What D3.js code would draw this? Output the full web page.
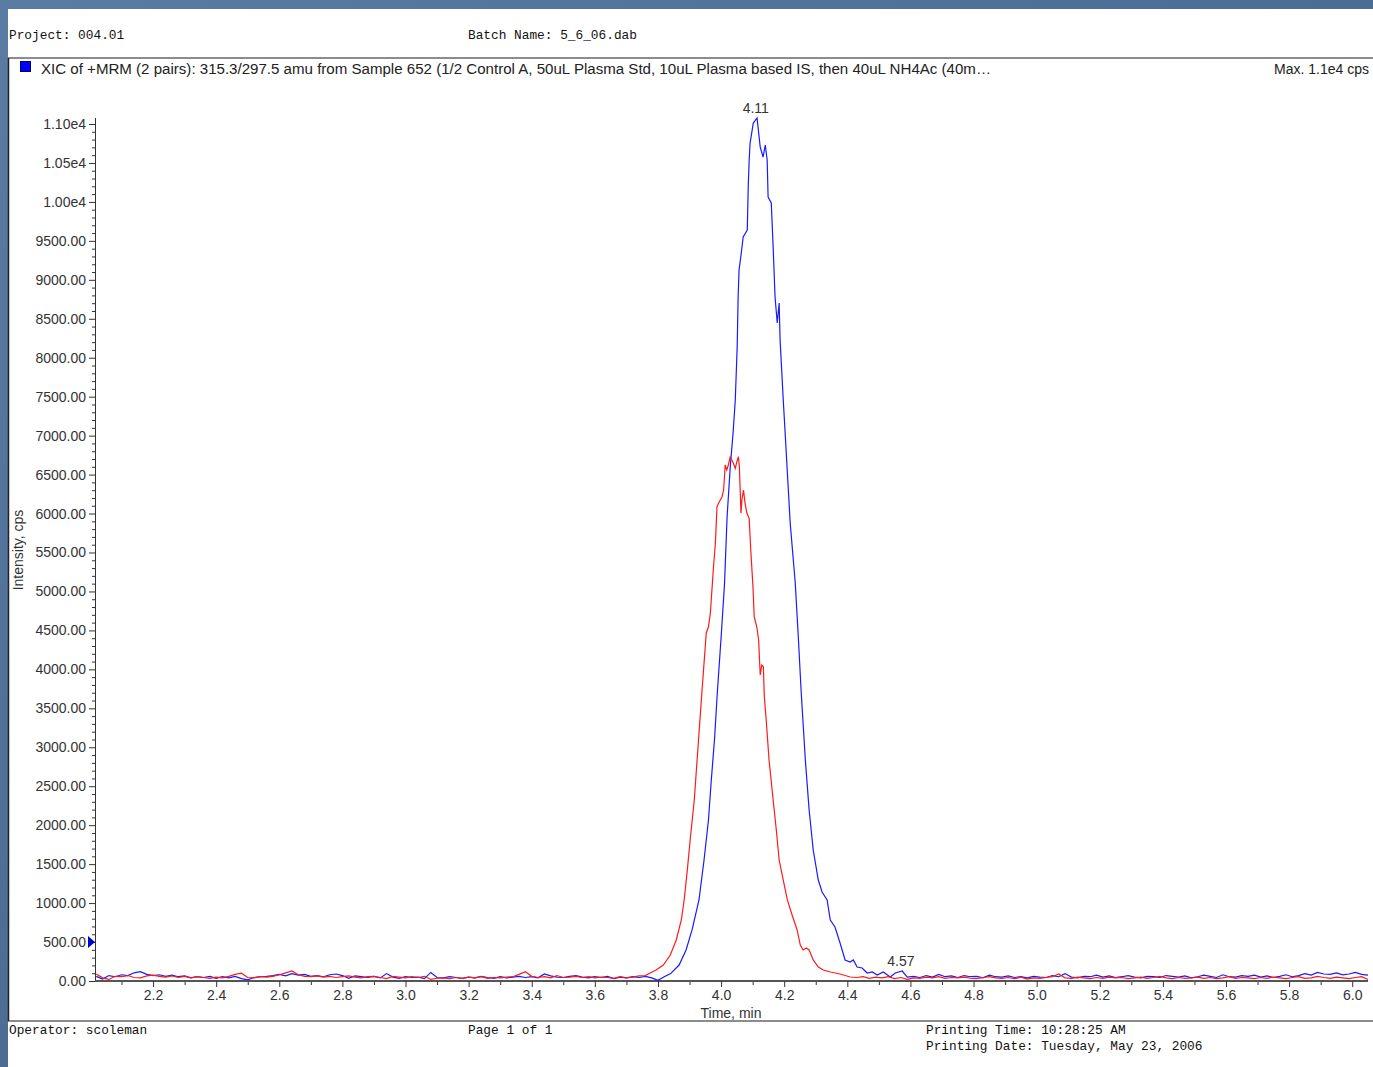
<!DOCTYPE html>
<html>
<head>
<meta charset="utf-8">
<script src="https://cdn.jsdelivr.net/npm/d3@7"></script>
<style>
  html, body { margin: 0; padding: 0; background: #50729a; }
  svg { display: block; }
</style>
</head>
<body>
<div id="graph"></div>
<script>
// XIC trace values: [time (min), intensity (cps)]
var blueLead = [
  [2.02,60],[2.04,25],[2.06,70],[2.08,55],[2.10,80],[2.12,70],[2.14,105],[2.16,120],[2.18,85],[2.20,70],
  [2.22,80],[2.24,60],[2.26,75],[2.28,55],[2.30,65],[2.32,40],[2.34,55],[2.36,45],[2.38,60],[2.40,35],
  [2.42,55],[2.44,40],[2.46,60],[2.48,30],[2.50,15],[2.52,45],[2.54,55],[2.56,60],[2.58,70],[2.60,85],
  [2.62,65],[2.64,95],[2.66,75],[2.68,85],[2.70,60],[2.72,70],[2.74,55],[2.76,80],[2.78,90],[2.80,70],
  [2.82,35],[2.84,65],[2.86,55],[2.88,45],[2.90,60],[2.92,40],[2.94,95],[2.96,50],[2.98,35],[3.00,55],
  [3.02,45],[3.04,50],[3.06,30],[3.08,110],[3.10,45],[3.12,40],[3.14,55],[3.16,45],[3.18,35],[3.20,50],
  [3.22,40],[3.24,60],[3.26,45],[3.28,35],[3.30,55],[3.32,40],[3.34,50],[3.36,60],[3.38,45],[3.40,55],
  [3.42,40],[3.44,90],[3.46,65],[3.48,50],[3.50,45],[3.52,60],[3.54,70],[3.56,50],[3.58,40],[3.60,55],
  [3.62,45],[3.64,60],[3.66,30],[3.68,50],[3.70,40],[3.72,55],[3.74,45],[3.76,60],[3.78,40],[3.80,10],
  [3.82,55],[3.84,95]
];
var bluePeak = [
  [3.867,205],[3.889,398],[3.908,655],[3.930,1040],[3.946,1553],[3.960,2066],[3.969,2580],[3.979,3093],
  [3.988,3696],[4.001,4467],[4.011,5108],[4.019,5955],[4.029,6597],[4.038,7034],[4.045,7457],[4.051,8137],
  [4.054,8779],[4.057,9126],[4.064,9344],[4.070,9549],[4.083,9639],[4.086,10191],[4.089,10538],[4.092,10756],
  [4.102,11012],[4.114,11077],[4.124,10704],[4.133,10576],[4.140,10730],[4.146,10538],[4.149,10063],[4.159,9986],
  [4.165,9421],[4.171,8779],[4.178,8445],[4.184,8702],[4.187,8227],[4.197,7457],[4.203,7034],[4.219,5878],
  [4.235,5108],[4.244,4467],[4.254,3696],[4.267,2837],[4.279,2195],[4.292,1681],[4.308,1296],[4.320,1142],
  [4.336,1040],[4.346,783],[4.361,693],[4.377,488],[4.393,270],[4.409,244],[4.419,270],[4.431,180],
  [4.447,167],[4.463,103],[4.479,116],[4.495,77],[4.514,116],[4.536,51],[4.552,103],[4.574,128],[4.590,51]
];
var blueTail = [
  [4.61,60],[4.63,45],[4.65,70],[4.67,50],[4.69,85],[4.71,55],[4.73,65],[4.75,45],[4.77,70],[4.79,55],
  [4.81,60],[4.83,40],[4.85,75],[4.87,55],[4.89,50],[4.91,65],[4.93,45],[4.95,55],[4.97,40],[4.99,60],
  [5.01,50],[5.03,45],[5.05,70],[5.07,55],[5.09,95],[5.11,50],[5.13,40],[5.15,60],[5.17,55],[5.19,75],
  [5.21,50],[5.23,65],[5.25,45],[5.27,55],[5.29,70],[5.31,50],[5.33,40],[5.35,60],[5.37,55],[5.39,45],
  [5.41,70],[5.43,60],[5.45,50],[5.47,65],[5.49,40],[5.51,55],[5.53,75],[5.55,60],[5.57,45],[5.59,80],
  [5.61,55],[5.63,50],[5.65,70],[5.67,60],[5.69,75],[5.71,50],[5.73,65],[5.75,45],[5.77,60],[5.79,80],
  [5.81,55],[5.83,70],[5.85,95],[5.87,75],[5.89,110],[5.91,90],[5.93,85],[5.95,105],[5.97,80],[5.99,90],
  [6.01,110],[6.03,85],[6.05,75]
];

var redLead = [
  [2.02,90],[2.04,40],[2.06,20],[2.08,60],[2.10,55],[2.12,70],[2.14,45],[2.16,40],[2.18,65],[2.20,75],
  [2.22,60],[2.24,50],[2.26,65],[2.28,45],[2.30,60],[2.32,40],[2.34,55],[2.36,45],[2.38,35],[2.40,50],
  [2.42,40],[2.44,60],[2.46,85],[2.48,100],[2.50,45],[2.52,40],[2.54,55],[2.56,50],[2.58,60],[2.60,80],
  [2.62,105],[2.64,130],[2.66,80],[2.68,60],[2.70,55],[2.72,65],[2.74,50],[2.76,60],[2.78,45],[2.80,55],
  [2.82,65],[2.84,50],[2.86,40],[2.88,55],[2.90,60],[2.92,45],[2.94,30],[2.96,60],[2.98,50],[3.00,40],
  [3.02,55],[3.04,45],[3.06,60],[3.08,20],[3.10,35],[3.12,40],[3.14,30],[3.16,45],[3.18,35],[3.20,50],
  [3.22,40],[3.24,55],[3.26,35],[3.28,45],[3.30,40],[3.32,50],[3.34,55],[3.36,85],[3.38,120],[3.40,60],
  [3.42,45],[3.44,55],[3.46,40],[3.48,70],[3.50,45],[3.52,50],[3.54,60],[3.56,45],[3.58,55],[3.60,40],
  [3.62,50],[3.64,45],[3.66,35],[3.68,55],[3.70,40],[3.72,50],[3.74,65],[3.76,70]
];
var redPeak = [
  [3.769,90],[3.794,141],[3.817,205],[3.839,334],[3.858,526],[3.874,783],[3.883,1040],[3.893,1425],
  [3.902,1810],[3.915,2323],[3.924,2837],[3.939,3693],[3.953,4467],[3.960,4547],[3.966,4723],[3.976,5318],
  [3.982,5622],[3.987,6088],[3.992,6131],[4.003,6216],[4.008,6302],[4.013,6623],[4.018,6559],[4.023,6623],
  [4.029,6729],[4.034,6687],[4.039,6645],[4.045,6580],[4.050,6665],[4.055,6729],[4.058,6601],[4.063,6003],
  [4.066,6174],[4.071,6302],[4.076,6131],[4.082,6003],[4.089,5939],[4.094,5532],[4.101,5061],[4.105,4676],
  [4.113,4547],[4.119,4377],[4.124,3928],[4.129,4056],[4.134,4034],[4.137,3649],[4.143,3350],[4.152,2837],
  [4.165,2323],[4.175,1938],[4.184,1553],[4.197,1296],[4.210,1040],[4.225,847],[4.241,655],[4.251,462],
  [4.260,398],[4.270,424],[4.279,398],[4.292,270],[4.308,180],[4.324,141],[4.346,116],[4.377,90],[4.409,51]
];
var redTail = [
  [4.43,45],[4.45,55],[4.47,35],[4.49,50],[4.51,40],[4.53,55],[4.55,30],[4.57,45],[4.59,20],[4.61,40],
  [4.63,35],[4.65,50],[4.67,40],[4.69,55],[4.71,35],[4.73,45],[4.75,40],[4.77,50],[4.79,35],[4.81,30],
  [4.83,45],[4.85,55],[4.87,40],[4.89,35],[4.91,45],[4.93,30],[4.95,50],[4.97,25],[4.99,40],[5.01,35],
  [5.03,45],[5.05,55],[5.07,90],[5.09,40],[5.11,35],[5.13,50],[5.15,40],[5.17,30],[5.19,45],[5.21,35],
  [5.23,50],[5.25,40],[5.27,45],[5.29,30],[5.31,40],[5.33,50],[5.35,35],[5.37,45],[5.39,60],[5.41,40],
  [5.43,30],[5.45,45],[5.47,35],[5.49,40],[5.51,50],[5.53,35],[5.55,45],[5.57,30],[5.59,40],[5.61,55],
  [5.63,35],[5.65,45],[5.67,40],[5.69,30],[5.71,45],[5.73,35],[5.75,50],[5.77,40],[5.79,30],[5.81,45],
  [5.83,55],[5.85,35],[5.87,40],[5.89,60],[5.91,45],[5.93,35],[5.95,50],[5.97,40],[5.99,30],[6.01,45],
  [6.03,55],[6.05,20]
];

// axis ticks and labels
var xTicks = [2.2,2.4,2.6,2.8,3.0,3.2,3.4,3.6,3.8,4.0,4.2,4.4,4.6,4.8,5.0,5.2,5.4,5.6,5.8,6.0];
var yTicks = [0,500,1000,1500,2000,2500,3000,3500,4000,4500,5000,5500,6000,6500,7000,7500,8000,8500,9000,9500,10000,10500,11000];
var peakLabels = [[4.11,11077,"4.11"],[4.57,128,"4.57"]];

var headerLeft = "Project: 004.01";
var headerMid = "Batch Name: 5_6_06.dab";
var legendText = "XIC of +MRM (2 pairs): 315.3/297.5 amu from Sample 652 (1/2 Control A, 50uL Plasma Std, 10uL Plasma based IS, then 40uL NH4Ac (40m\u2026";
var maxText = "Max. 1.1e4 cps";
var footerOp = "Operator: scoleman";
var footerPage = "Page 1 of 1";
var footerTime = "Printing Time: 10:28:25 AM";
var footerDate = "Printing Date: Tuesday, May 23, 2006";

function render() {
  var width = 1373, height = 1067;
  var mono = "'Liberation Mono', 'DejaVu Sans Mono', monospace";
  var sans = "'Liberation Sans', Arial, sans-serif";

  var svg = d3.select("#graph").html("")
    .append("svg")
    .attr("width", width)
    .attr("height", height);

  // slide background
  var defs = svg.append("defs");
  var grad = defs.append("linearGradient").attr("id", "bg")
    .attr("x1", 0).attr("y1", 0).attr("x2", 1).attr("y2", 1);
  grad.append("stop").attr("offset", 0).attr("stop-color", "#5a7ca3");
  grad.append("stop").attr("offset", 0.5).attr("stop-color", "#4b6d95");
  grad.append("stop").attr("offset", 1).attr("stop-color", "#5a7ba2");
  svg.append("rect").attr("width", width).attr("height", height).attr("fill", "url(#bg)");

  // white page
  svg.append("rect").attr("x", 8).attr("y", 9).attr("width", width - 8).attr("height", height - 9)
    .attr("fill", "#ffffff");

  // page header
  svg.append("text").attr("x", 9).attr("y", 39).text(headerLeft)
    .style("font-family", mono).style("font-size", "12.8px").attr("fill", "#111");
  svg.append("text").attr("x", 468).attr("y", 39).text(headerMid)
    .style("font-family", mono).style("font-size", "12.8px").attr("fill", "#111");

  // chart frame
  svg.append("line").attr("x1", 8).attr("x2", width).attr("y1", 58).attr("y2", 58)
    .attr("stroke", "#8c8c8c").attr("stroke-width", 2);
  svg.append("line").attr("x1", 8).attr("x2", width).attr("y1", 1021).attr("y2", 1021)
    .attr("stroke", "#8c8c8c").attr("stroke-width", 2);
  svg.append("line").attr("x1", 8.5).attr("x2", 8.5).attr("y1", 58).attr("y2", 1021)
    .attr("stroke", "#222").attr("stroke-width", 1.5);

  // legend
  svg.append("rect").attr("x", 20.5).attr("y", 61.5).attr("width", 10).attr("height", 10)
    .attr("fill", "#0000ff").attr("stroke", "#000066").attr("stroke-width", 1);
  svg.append("text").attr("x", 41).attr("y", 74).text(legendText)
    .attr("textLength", 950).attr("lengthAdjust", "spacingAndGlyphs")
    .style("font-family", sans).style("font-size", "14px").attr("fill", "#222");
  svg.append("text").attr("x", 1274).attr("y", 74).text(maxText)
    .style("font-family", sans).style("font-size", "14px").attr("fill", "#222");

  // scales
  var x = d3.scaleLinear().domain([2.016, 6.05]).range([95, 1368]);
  var y = d3.scaleLinear().domain([0, 11077]).range([981, 118]);

  var g = svg.append("g");

  // y axis
  var yFmt = function(d) { return d >= 10000 ? (d / 1e4).toFixed(2) + "e4" : d.toFixed(2); };
  var yMinor = d3.range(0, 11001, 100).filter(function(d) { return d % 500 !== 0; });
  var yAxisMinor = d3.axisLeft(y).tickValues(yMinor).tickSize(3).tickFormat("");
  var yAxis = d3.axisLeft(y).tickValues(yTicks).tickSize(6).tickPadding(3).tickFormat(yFmt);

  g.append("g").attr("transform", "translate(95,0)").call(yAxisMinor)
    .call(function(a) { a.select(".domain").remove(); a.selectAll("line").attr("stroke", "#333"); });
  g.append("g").attr("transform", "translate(95,0)").call(yAxis)
    .call(function(a) {
      a.select(".domain").attr("stroke", "#333").attr("d", "M0.5," + y.range()[1] + "V" + y.range()[0]);
      a.selectAll("line").attr("stroke", "#333");
      a.selectAll("text").style("font-family", sans).style("font-size", "14px").attr("fill", "#333");
    });

  // x axis
  var xMinor = d3.range(21, 61, 1).map(function(d) { return d / 10; })
    .filter(function(d) { return Math.round(d * 10) % 2 !== 0; });
  var xAxisMinor = d3.axisBottom(x).tickValues(xMinor).tickSize(4).tickFormat("");
  var xAxis = d3.axisBottom(x).tickValues(xTicks).tickSize(6).tickPadding(3).tickFormat(d3.format(".1f"));

  g.append("g").attr("transform", "translate(0,981)").call(xAxisMinor)
    .call(function(a) { a.select(".domain").remove(); a.selectAll("line").attr("stroke", "#333"); });
  g.append("g").attr("transform", "translate(0,981)").call(xAxis)
    .call(function(a) {
      a.select(".domain").attr("stroke", "#555").attr("stroke-width", 2)
        .attr("d", "M" + x.range()[0] + ",0H" + x.range()[1]);
      a.selectAll("line").attr("stroke", "#333");
      a.selectAll("text").style("font-family", sans).style("font-size", "14px").attr("fill", "#333");
    });

  // axis titles
  svg.append("text").attr("x", 731).attr("y", 1018).attr("text-anchor", "middle").text("Time, min")
    .style("font-family", sans).style("font-size", "14px").attr("fill", "#333");
  svg.append("text").attr("transform", "translate(23,550) rotate(-90)").attr("text-anchor", "middle")
    .text("Intensity, cps")
    .style("font-family", sans).style("font-size", "14px").attr("fill", "#333");

  // threshold marker on the y axis
  svg.append("path")
    .attr("d", "M" + 88 + "," + (y(500) - 6) + "L95," + y(500) + "L88," + (y(500) + 6) + "Z")
    .attr("fill", "#0000cc");

  // traces
  var line = d3.line()
    .x(function(d) { return x(d[0]); })
    .y(function(d) { return y(d[1]); });

  var blue = blueLead.concat(bluePeak, blueTail);
  var red = redLead.concat(redPeak, redTail);

  g.append("path").datum(blue).attr("d", line)
    .attr("fill", "none").attr("stroke", "#1a1aff").attr("stroke-width", 1.2);
  g.append("path").datum(red).attr("d", line)
    .attr("fill", "none").attr("stroke", "#ff1a1a").attr("stroke-width", 1.2);

  // peak apex labels
  g.selectAll(".peak").data(peakLabels).enter().append("text")
    .attr("class", "peak")
    .attr("x", function(d) { return x(d[0]); })
    .attr("y", function(d) { return y(d[1]) - 5; })
    .attr("text-anchor", "middle")
    .text(function(d) { return d[2]; })
    .style("font-family", sans).style("font-size", "14px").attr("fill", "#333");

  // page footer
  svg.append("text").attr("x", 9).attr("y", 1034).text(footerOp)
    .style("font-family", mono).style("font-size", "12.8px").attr("fill", "#111");
  svg.append("text").attr("x", 468).attr("y", 1034).text(footerPage)
    .style("font-family", mono).style("font-size", "12.8px").attr("fill", "#111");
  svg.append("text").attr("x", 926).attr("y", 1034).text(footerTime)
    .style("font-family", mono).style("font-size", "12.8px").attr("fill", "#111");
  svg.append("text").attr("x", 926).attr("y", 1050).text(footerDate)
    .style("font-family", mono).style("font-size", "12.8px").attr("fill", "#111");
}

render();
</script>
</body>
</html>
